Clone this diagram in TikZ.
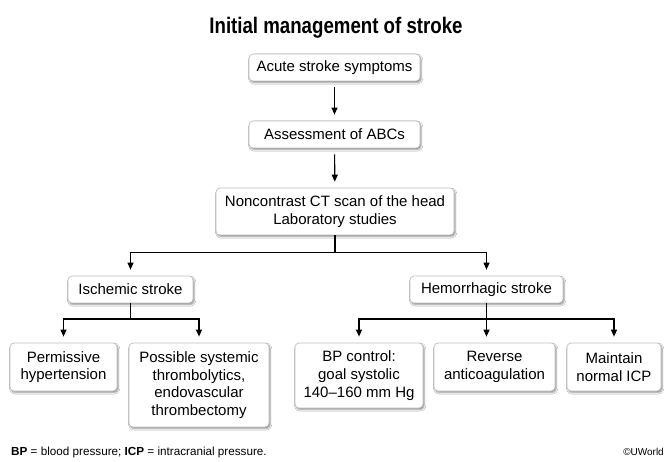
\documentclass[tikz,border=0pt]{standalone}
\usepackage{fontspec}
\setmainfont{Liberation Sans}
\newfontfamily\titlefont[FakeStretch=0.83]{Liberation Sans Bold}
\usetikzlibrary{arrows.meta,shadows.blur}
\begin{document}
\begin{tikzpicture}[x=1pt,y=-1pt,
  box/.style={draw=black!25, line width=0.7pt, fill=white, rounded corners=4pt,
    align=center, inner sep=0pt, font=\fontsize{15}{17.7}\selectfont,
    blur shadow={shadow xshift=1.2pt, shadow yshift=-1.6pt, shadow blur radius=1.6pt, shadow opacity=45}},
  conn/.style={line width=1.1pt, black},
  arr/.style={conn, -{Triangle[length=7pt,width=6pt]}, shorten >=6pt}]
\useasboundingbox (0,0) rectangle (672,462);
\fill[white] (0,0) rectangle (672,462);

\node[anchor=base, font=\titlefont\fontsize{22.5}{26}\selectfont] (title) at (336,34) {Initial management of stroke};

\node[box, minimum width=171pt, minimum height=27pt] (n1) at (334.5,67.5) {Acute stroke symptoms};
\node[box, minimum width=171pt, minimum height=27pt] (n2) at (334.5,134.5) {Assessment of ABCs};
\node[box, minimum width=238pt, minimum height=47pt] (n3) at (335,211.5) {Noncontrast CT scan of the head\\Laboratory studies};

\node[box, minimum width=125pt, minimum height=27pt] (isch) at (130.5,289.5) {Ischemic stroke};
\node[box, minimum width=153pt, minimum height=27pt] (hem) at (486.5,289.5) {Hemorrhagic stroke};

\node[box, minimum width=107pt, minimum height=48pt] (perm) at (63.5,367) {Permissive\\hypertension};
\node[box, minimum width=140pt, minimum height=84pt] (poss) at (199,385) {Possible systemic\\thrombolytics,\\endovascular\\thrombectomy};
\node[box, minimum width=128pt, minimum height=65pt] (bp) at (359,375.5) {BP control:\\goal systolic\\140--160 mm Hg};
\node[box, minimum width=121pt, minimum height=48pt] (rev) at (494.5,367) {Reverse\\anticoagulation};
\node[box, minimum width=94pt, minimum height=48pt] (icp) at (614,367) {Maintain\\normal ICP};

\coordinate (s1) at (335,252.5);
\coordinate (s2) at (130.5,319);
\coordinate (s3) at (486.5,319);

\draw[arr, shorten <=6pt] (n1) -- (n2);
\draw[arr, shorten <=6pt] (n2) -- (n3);
\draw[conn] (n3.south) -- (s1);
\draw[arr] (s1) -| (isch);
\draw[arr] (s1) -| (hem);
\draw[conn] (isch.south) -- (s2);
\draw[arr] (s2) -| (perm);
\draw[arr] (s2) -| (poss);
\draw[conn] (hem.south) -- (s3);
\draw[arr] (s3) -| (bp);
\draw[arr] (s3) -- (s3 |- rev.north);
\draw[arr] (s3) -| (icp);

\node[anchor=base west, inner sep=0pt, font=\fontsize{11.7}{14}\selectfont] (foot) at (11,455) {\textbf{BP} = blood pressure; \textbf{ICP} = intracranial pressure.};
\node[anchor=base east, inner sep=0pt, font=\fontsize{10}{12}\selectfont] (copy) at (664,455) {©UWorld};
\end{tikzpicture}
\end{document}
